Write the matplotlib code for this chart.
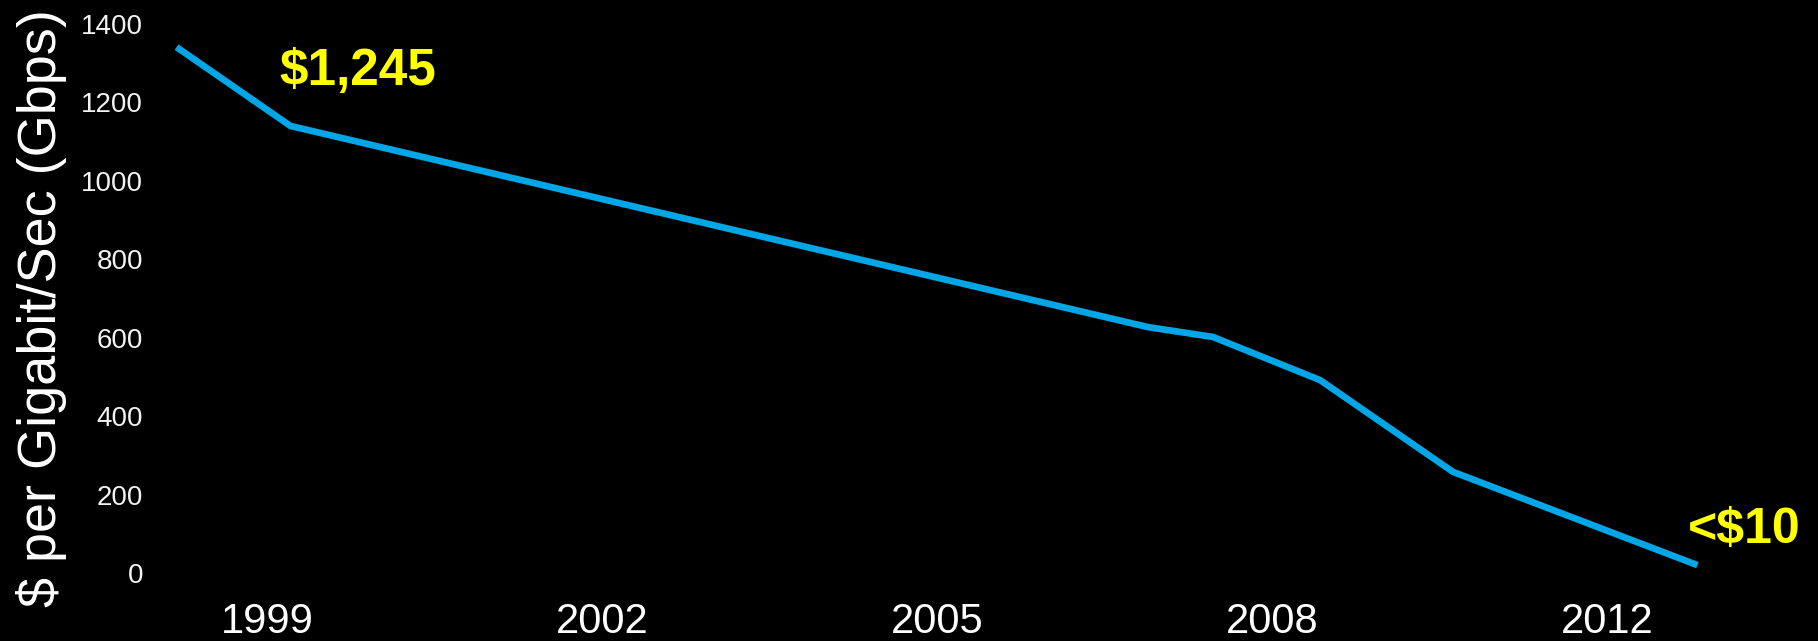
import matplotlib
matplotlib.use("Agg")
import matplotlib.pyplot as plt

plt.rcParams['font.family'] = ['Liberation Sans', 'DejaVu Sans']

# x positions on an evenly spaced period axis (ticks every 3 slots)
periods = [-0.81, 0.21, 7.89, 8.47, 9.43, 10.62, 12.81]
cost = [1341, 1140, 627, 602, 492, 258, 20]

tick_pos = [0, 3, 6, 9, 12]
tick_labels = ['1999', '2002', '2005', '2008', '2012']
y_ticks = [0, 200, 400, 600, 800, 1000, 1200, 1400]

W, H = 1818, 641
fig = plt.figure(figsize=(W / 100, H / 100), dpi=100, facecolor='black')

# axes box in pixels: x 150..1760, y 24..573
left, right, top, bottom = 150, 1760, 24, 573
ax = fig.add_axes([left / W, 1 - bottom / H, (right - left) / W, (bottom - top) / H])
ax.set_facecolor('black')

ax.plot(periods, cost, color='#00a6e6', linewidth=4.8, clip_on=False,
        solid_joinstyle='miter', solid_capstyle='butt')

px_per_slot = 335 / 3
ax.set_xlim(-(267 - left) / px_per_slot, (right - 267) / px_per_slot)
ax.set_ylim(0, 1400)

ax.set_xticks(tick_pos)
ax.set_xticklabels(tick_labels)
ax.set_yticks(y_ticks)
ax.tick_params(axis='x', length=0, pad=21, labelsize=30, colors='white')
ax.tick_params(axis='y', length=0, pad=5, labelsize=20, colors='#f2f2f2')

for s in ax.spines.values():
    s.set_visible(False)

# annotations
ax.annotate('$1,245', xy=(periods[1], cost[1]), xytext=(67, 54),
            textcoords='offset pixels', ha='center', va='center',
            color='#ffff00', fontsize=37, fontweight='bold')
ax.annotate('<$10', xy=(periods[-1], cost[-1]), xytext=(47, 35),
            textcoords='offset pixels', ha='center', va='center',
            color='#ffff00', fontsize=36, fontweight='bold')

fig.text(42 / W, 1 - 308 / H, '$ per Gigabit/Sec (Gbps)', rotation=90,
         ha='center', va='center', color='white', fontsize=39)

fig.savefig('out.png', dpi=100, facecolor='black')
